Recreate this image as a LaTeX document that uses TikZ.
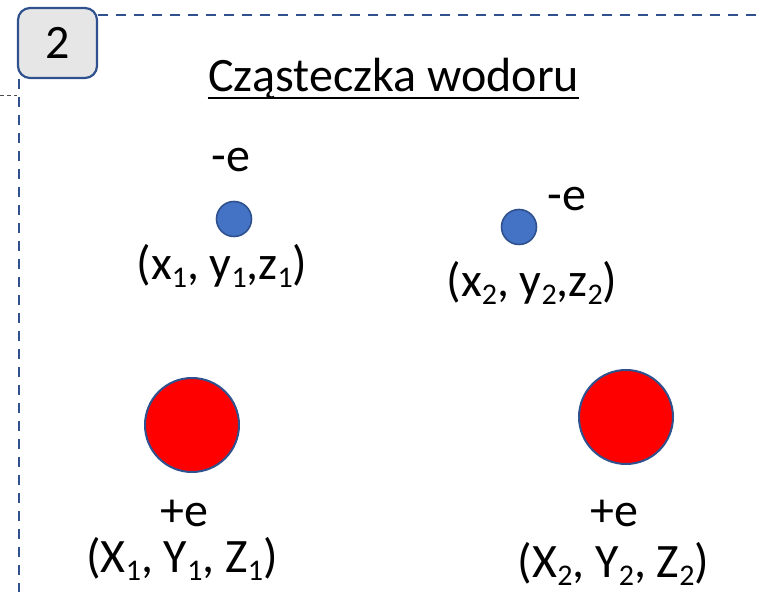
\documentclass[tikz,border=0pt]{standalone}
\usepackage{fontspec}
\setmainfont{Carlito}
\usepackage{xcolor}
\usepackage{tikz}
\definecolor{frameblue}{RGB}{47,82,143}
\definecolor{dotblue}{RGB}{68,114,196}
\definecolor{boxgray}{RGB}{231,230,230}
\newcommand{\idx}[1]{\raisebox{-4pt}{\fontsize{15}{15}\selectfont #1}}

\begin{document}
\begin{tikzpicture}[x=0.5pt, y=-0.5pt,
  txt/.style={inner sep=0pt, anchor=base, font=\fontsize{24}{28}\selectfont},
  numbox/.style={draw=frameblue, line width=1.1pt, fill=boxgray, rounded corners=6pt,
                 minimum width=39.5pt, minimum height=35pt, inner sep=0pt,
                 font=\fontsize{24}{28}\selectfont},
  frame/.style={draw=frameblue, line width=1.2pt, dash pattern=on 5pt off 4pt},
  outer/.style={draw=black!70, line width=0.4pt, dash pattern=on 2pt off 1.5pt},
  electron/.style={circle, fill=dotblue, draw=frameblue, line width=0.8pt,
                   minimum size=17.5pt, inner sep=0pt},
  proton/.style={circle, fill=red, draw=frameblue, line width=1pt,
                 minimum size=47pt, inner sep=0pt}
]
  \useasboundingbox (0,0) rectangle (760,592);
  \node[numbox] (num) at (57.5,43) {2};
  \coordinate (topend) at (760,15);
  \coordinate (botend) at (19,592);
  \coordinate (leftend) at (0,95);
  \draw[frame] (num.east |- topend) -- (topend);
  \draw[frame] (num.south -| botend) -- (botend);
  \draw[outer] (leftend) -- (num.west |- leftend);

  \node[txt] (title) at (393.5,92) {Cząsteczka wodoru};
  \draw[line width=1pt] ([yshift=-3pt]title.base west) -- ([yshift=-3pt]title.base east);

  \node[electron] (e1) at (234,219) {};
  \node[electron] (e2) at (519,227) {};
  \node[proton] (p1) at (192,425) {};
  \node[proton] (p2) at (626,417) {};

  \node[txt] (e1q) at (231,172) {-e};
  \node[txt] (e1r) at (222,280) {(x\idx{1}, y\idx{1},z\idx{1})};
  \node[txt, anchor=base west] (e2q) at (547,211) {-e};
  \node[txt] (e2r) at (532,297) {(x\idx{2}, y\idx{2},z\idx{2})};
  \node[txt] (p1q) at (184,527) {+e};
  \node[txt] (p1r) at (182,573) {(X\idx{1}, Y\idx{1}, Z\idx{1})};
  \node[txt] (p2q) at (614,527) {+e};
  \node[txt] (p2r) at (613.5,577) {(X\idx{2}, Y\idx{2}, Z\idx{2})};
\end{tikzpicture}
\end{document}
